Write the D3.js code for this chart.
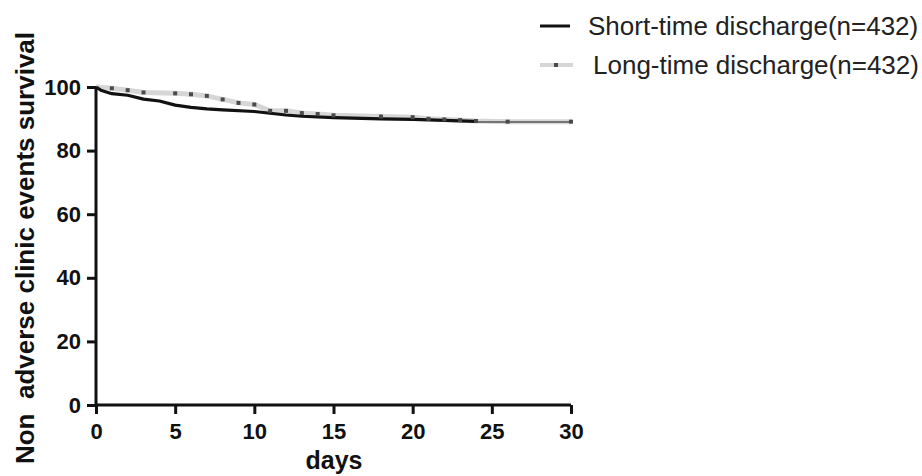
<!DOCTYPE html>
<html><head><meta charset="utf-8">
<script src="https://cdn.jsdelivr.net/npm/d3@7"></script>
<style>body{margin:0;background:#fff}svg{display:block}text{font-family:"Liberation Sans",Arial,sans-serif}</style>
</head><body><svg id="c" width="922" height="476"></svg>
<script>
const xTicks = [0,5,10,15,20,25,30];
const yTicks = [0,20,40,60,80,100];
const shortDays = [0,0.3,1,2,3,4,5,6,7,8,10,12,13,15,18,20,22,24];
const shortSurv = [100,99,97.9,97.4,96.2,95.6,94.3,93.6,93.1,92.8,92.3,91.2,90.8,90.4,90.0,89.8,89.5,89.2];
const shortTailDays = [24,30];
const shortTailSurv = [89.0,89.0];
const longDays = [0,1,2,3,5,6,7,8,9,10,11,12,13,14,15,18,20,21,22,23,24,26,30];
const longSurv = [100,99.6,99.0,98.3,98.0,97.7,97.2,96.1,95.0,94.5,92.5,92.5,91.8,91.5,91.1,90.7,90.5,90.0,89.8,89.6,89.3,89.1,89.1];
const censorDays = [1,2,3,5,6,7,8,9,10,11,12,13,14,15,18,20,21,22,23,24,26,30];
const censorSurv = [99.6,99.0,98.3,98.0,97.7,97.2,96.1,95.0,94.5,92.5,92.5,91.8,91.5,91.1,90.7,90.5,90.0,89.8,89.6,89.3,89.1,89.1];
const legendLabels = ["Short-time discharge(n=432)","Long-time discharge(n=432)"];

const svg = d3.select("#c");
const x = d3.scaleLinear().domain([0,30]).range([96,571]);
const y = d3.scaleLinear().domain([0,100]).range([405,87]);

const line = d3.line().x(d=>x(d[0])).y(d=>y(d[1]));
const longPts = longDays.map((d,i)=>[d,longSurv[i]]);
svg.append("path").attr("d",line(longPts)).attr("fill","none").attr("stroke","#d6d6d6").attr("stroke-width",5);
const shortPts = shortDays.map((d,i)=>[d,shortSurv[i]]);
svg.append("path").attr("d",line(shortPts)).attr("fill","none").attr("stroke","#111").attr("stroke-width",3.2).attr("stroke-linejoin","round");
const tailPts = shortTailDays.map((d,i)=>[d,shortTailSurv[i]]);
svg.append("path").attr("d",line(tailPts)).attr("fill","none").attr("stroke","#555").attr("stroke-width",1.6);
svg.selectAll("rect.cm").data(censorDays.map((d,i)=>[d,censorSurv[i]])).enter().append("rect")
  .attr("x",d=>x(d[0])-2).attr("y",d=>y(d[1])-2).attr("width",4).attr("height",4).attr("fill","#4a4a4a");

// axes
const xAxis = d3.axisBottom(x).tickValues(xTicks).tickSize(9).tickPadding(9);
const gx = svg.append("g").attr("transform","translate(0,405)").call(xAxis);
const yAxis = d3.axisLeft(y).tickValues(yTicks).tickSize(9).tickPadding(6);
const gy = svg.append("g").attr("transform","translate(96,0)").call(yAxis);
[gx,gy].forEach(g=>{
  g.select(".domain").attr("stroke","#111").attr("stroke-width",3);
  g.selectAll(".tick line").attr("stroke","#111").attr("stroke-width",3);
  g.selectAll(".tick text").attr("fill","#111").style("font-size","22px").style("font-weight","bold").style("font-family","'Liberation Sans',Arial,sans-serif");
});
gx.select(".domain").attr("d","M96,0H571");
gy.select(".domain").attr("d","M0,405V87");

svg.append("text").attr("x",334).attr("y",469).attr("text-anchor","middle").style("font-size","25px").style("font-weight","bold").attr("fill","#111").text("days");
svg.append("text").attr("transform","translate(34,248) rotate(-90)").attr("text-anchor","middle").style("font-size","26px").style("font-weight","bold").attr("fill","#111").attr("xml:space","preserve").style("white-space","pre").text("Non  adverse clinic events survival");

// legend
svg.append("line").attr("x1",540).attr("x2",570).attr("y1",26).attr("y2",26).attr("stroke","#111").attr("stroke-width",3);
svg.append("line").attr("x1",540).attr("x2",573).attr("y1",65).attr("y2",65).attr("stroke","#d6d6d6").attr("stroke-width",4);
svg.append("rect").attr("x",554).attr("y",63).attr("width",4).attr("height",4).attr("fill","#4a4a4a");
svg.append("text").attr("x",588).attr("y",35).style("font-size","26px").attr("fill","#222").text(legendLabels[0]);
svg.append("text").attr("x",593).attr("y",74).style("font-size","26px").attr("fill","#222").text(legendLabels[1]);
</script></body></html>
